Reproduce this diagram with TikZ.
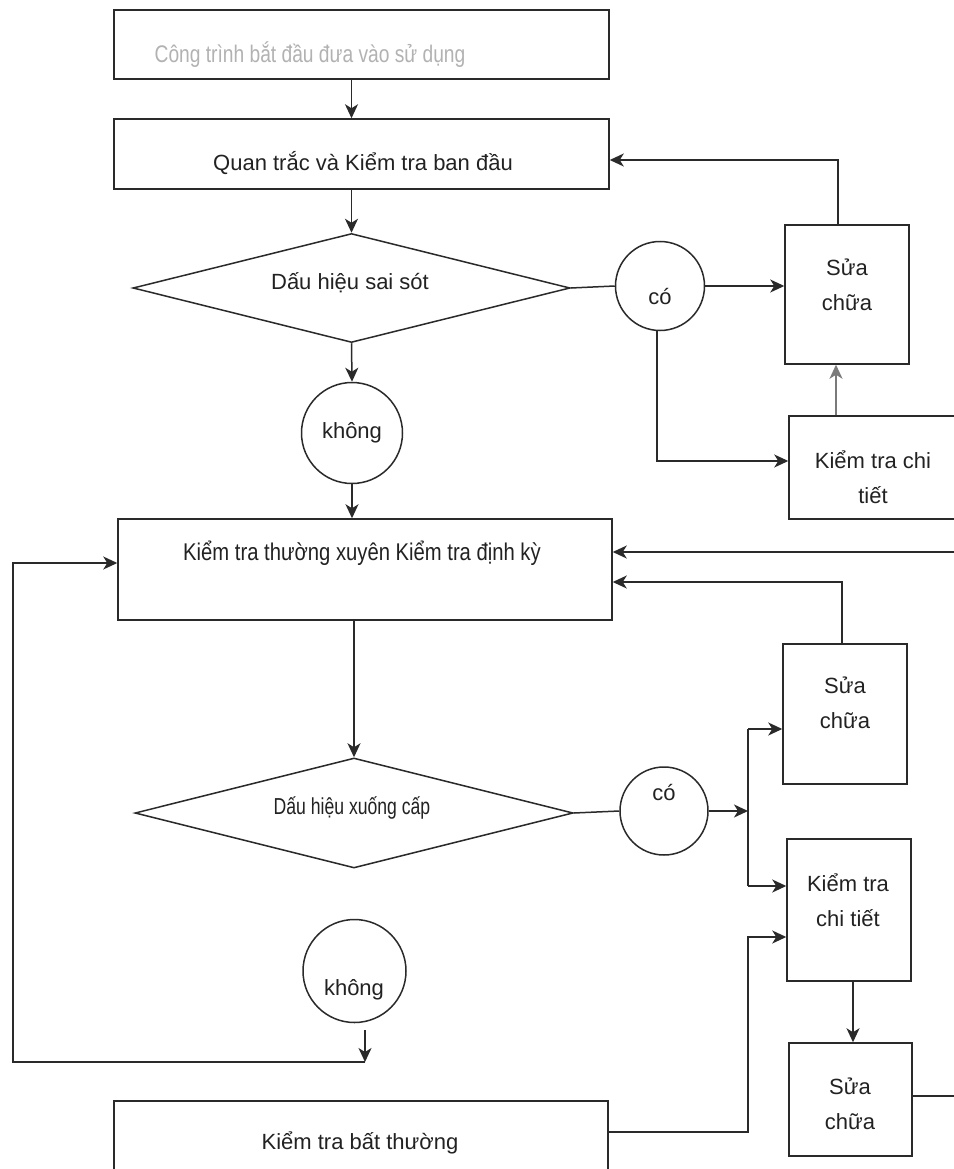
\documentclass[tikz,border=0pt]{standalone}
\usepackage{fontspec}
\setmainfont{Liberation Sans}
\usetikzlibrary{shapes.geometric,arrows.meta,calc}
\definecolor{lc}{HTML}{2A2A2A}
\definecolor{tc}{HTML}{222222}
\definecolor{gt}{HTML}{B2B2B2}
\definecolor{lg}{HTML}{7A7A7A}
\begin{document}
\begin{tikzpicture}[x=1pt,y=-1pt,
  ln/.style={draw=lc, line width=1.5pt},
  arr/.style={ln, -{Stealth[length=14pt,width=13pt,inset=4pt]}},
  bx/.style={draw=lc, line width=1.5pt, rectangle, inner sep=0pt, fill=white},
  dm/.style={draw=lc, line width=1.5pt, diamond, inner sep=0pt, fill=white},
  cc/.style={draw=lc, line width=1.5pt, circle, inner sep=0pt, fill=white},
  txt/.style={text=tc, font=\fontsize{22}{35}\selectfont, align=center, inner sep=0pt}]
\useasboundingbox (0,0) rectangle (953,1169);
\fill[white] (0,0) rectangle (953,1169);
% boxes
\node[bx, minimum width=495pt, minimum height=69pt] (b1) at (361.5,44.5) {};
\node[bx, minimum width=495pt, minimum height=70pt] (b2) at (361.5,154) {};
\node[dm, minimum width=437pt, minimum height=109pt] (d1) at (351.5,288) {};
\node[cc, minimum size=101pt] (c1) at (352,433) {};
\node[cc, minimum size=89pt] (co1) at (660,286) {};
\node[bx, minimum width=124pt, minimum height=139pt] (s1) at (847,294.5) {};
\node[bx, minimum width=168pt, minimum height=103pt] (k1) at (873,467.5) {};
\node[bx, minimum width=494pt, minimum height=101pt] (b3) at (365,569.5) {};
\node[bx, minimum width=124pt, minimum height=140pt] (s2) at (845,714) {};
\node[dm, minimum width=438pt, minimum height=110pt] (d2) at (354,813) {};
\node[cc, minimum size=88pt] (co2) at (664,811) {};
\node[bx, minimum width=124pt, minimum height=142pt] (k2) at (849,910) {};
\node[cc, minimum size=103pt] (c2) at (354.5,971) {};
\node[bx, minimum width=123pt, minimum height=113pt] (s3) at (850.5,1099.5) {};
\node[bx, minimum width=494pt, minimum height=100pt] (b4) at (361,1151) {};
% texts
\node[txt, text=gt, font=\fontsize{24}{30}\selectfont] (t1) at (310,55) {\scalebox{0.8}[1]{Công trình bắt đầu đưa vào sử dụng}};
\node[txt] (t2) at (363,163) {Quan trắc và Kiểm tra ban đầu};
\node[txt] (td1) at (350,283) {Dấu hiệu sai sót};
\node[txt] (tc1) at (352,433) {không};
\node[txt] (tco1) at (660,297) {có};
\node[txt] (ts1) at (847,285) {Sửa\\chữa};
\node[txt] (tk1) at (873,477) {Kiểm tra chi\\tiết};
\node[txt] (t3) at (362,553) {\scalebox{0.92}[1.1]{Kiểm tra thường xuyên Kiểm tra định kỳ}};
\node[txt] (td2) at (352,808) {\scalebox{0.8}[1.05]{Dấu hiệu xuống cấp}};
\node[txt] (tco2) at (664,792) {có};
\node[txt] (ts2) at (845,703) {Sửa\\chữa};
\node[txt] (tk2) at (848,900) {Kiểm tra\\chi tiết};
\node[txt] (tc2) at (354,990) {không};
\node[txt] (t4) at (360,1143) {Kiểm tra bất thường};
\node[txt] (ts3) at (850,1104) {Sửa\\chữa};
% coordinates
\coordinate (x836) at (836,0);
\coordinate (e1) at (960,552);
\coordinate (jn) at (748,811);
\coordinate (ja) at (748,729);
\coordinate (jb) at (748,886);
\coordinate (jc) at (748,937);
\coordinate (jd) at (748,1132);
\coordinate (ls) at (365,1030);
\coordinate (lp) at (365,1062);
\coordinate (l1) at (13,1062);
\coordinate (e2) at (960,1096);
% connectors
\draw[arr] (b1.south -| d1.center) -- (b2.north -| d1.center);
\draw[arr] (b2.south -| d1.center) -- (d1.north);
\draw[arr] (d1.south) -- (c1.north);
\draw[arr] (c1.south) -- (b3.north -| c1.south);
\draw[ln] (d1.east) -- (co1.west);
\draw[arr] (co1.east) -- (co1.east -| s1.west);
\draw[arr] ($(s1.north)+(-9,0)$) |- ($(b2.east)+(0,6)$);
\draw[arr, draw=lg] (x836 |- k1.north) -- (x836 |- s1.south);
\draw[arr] ($(co1.south)+(-3,0)$) |- ($(k1.west)+(0,-6.5)$);
\draw[arr] (b3.south -| d2.center) -- (d2.north);
\draw[ln] (d2.east) -- (co2.west);
\draw[arr] (co2.east) -- (jn);
\draw[ln] (ja) -- (jb);
\draw[arr] (ja) -- (ja -| s2.west);
\draw[arr] (jb) -- (jb -| k2.west);
\draw[arr] ($(s2.north)+(-3,0)$) |- ($(b3.east)+(0,12.5)$);
\draw[arr] (e1) -- (e1 -| b3.east);
\draw[arr] (ls) -- (lp);
\draw[arr] (lp) -- (l1) |- ($(b3.west)+(0,-6.5)$);
\draw[arr] (jd -| b4.east) -- (jd) -- (jc) -- (jc -| k2.west);
\draw[arr] (k2.south -| 853,0) -- (s3.north -| 853,0);
\draw[ln] (e2 -| s3.east) -- (e2);
\end{tikzpicture}
\end{document}
